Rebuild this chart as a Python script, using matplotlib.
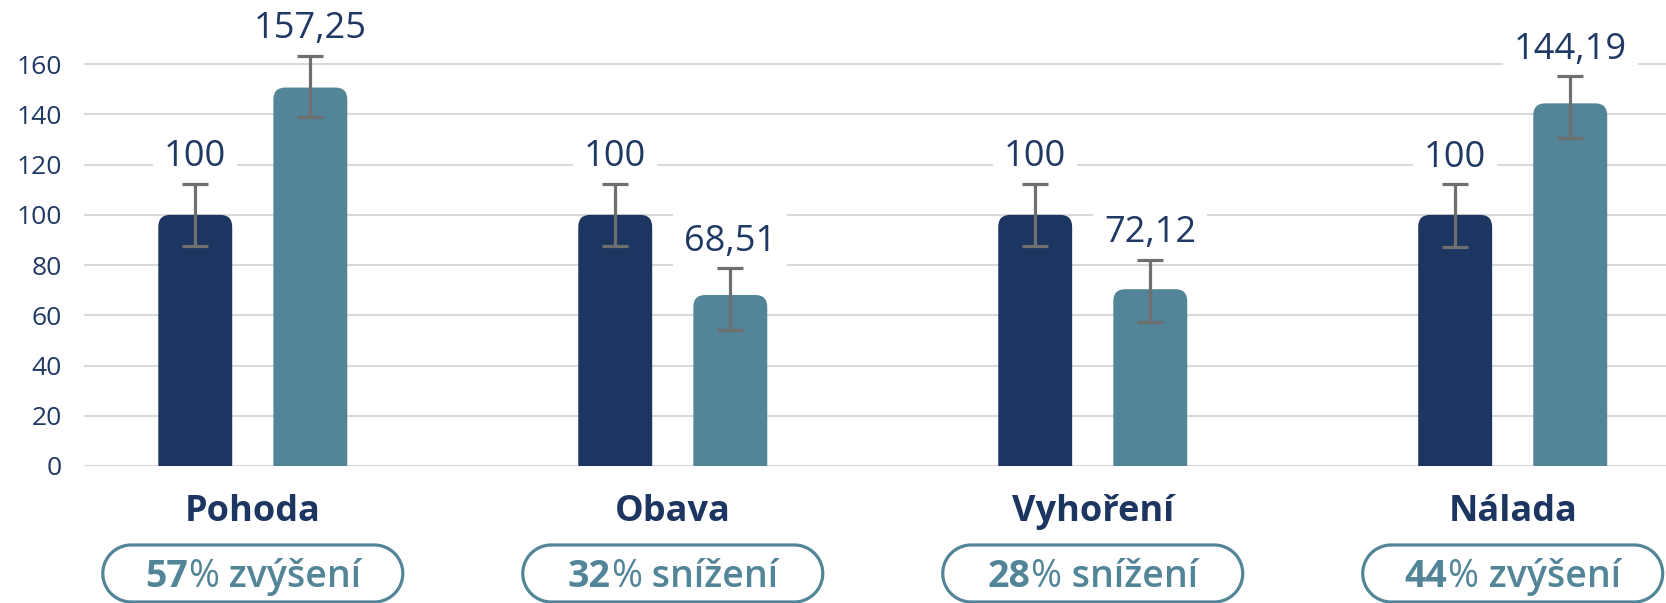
import matplotlib
matplotlib.use("Agg")
import matplotlib.pyplot as plt
from matplotlib.patches import FancyBboxPatch, Polygon
import numpy as np

plt.rcParams['font.family'] = ['Open Sans', 'DejaVu Sans']

# data
categories = ['Pohoda', 'Obava', 'Vyhoření', 'Nálada']
baseline_vals = [100, 100, 100, 100]
after_vals = [150.7, 68.1, 70.4, 144.4]
baseline_err_lo = [87.6, 87.6, 87.6, 87.4]
baseline_err_hi = [112.3, 112.3, 112.3, 112.1]
after_err_lo = [138.9, 54.1, 57.3, 130.8]
after_err_hi = [163.4, 78.7, 82.0, 155.2]
baseline_labels = ['100', '100', '100', '100']
after_labels = ['157,25', '68,51', '72,12', '144,19']
change_pct = ['57', '32', '28', '44']
change_word = ['zvýšení', 'snížení', 'snížení', 'zvýšení']
yticks = [0, 20, 40, 60, 80, 100, 120, 140, 160]

navy = '#1d3661'
teal = '#528597'
text_navy = '#1f3864'
err_grey = '#6f6f6f'
grid_grey = '#d9d9d9'

fig = plt.figure(figsize=(16.66, 6.03), dpi=100)
ax_box = [0.0504, 0.2272, 0.9496, 0.708]
ax = fig.add_axes(ax_box)
xlim = (-0.402, 3.365)
ax.set_xlim(*xlim)
ax.set_ylim(0, 170)

x = np.arange(len(categories))
off = 0.137
width = 0.176

for s in ax.spines.values():
    s.set_visible(False)
ax.set_yticks(yticks)
ax.set_yticklabels([str(v) for v in yticks])
ax.tick_params(axis='y', length=0, pad=16, labelsize=19, labelcolor=text_navy)
ax.set_xticks([])
ax.yaxis.grid(True, color=grid_grey, linewidth=1.5)
ax.set_axisbelow(True)

# size of one pixel in x data units and in y data / axes units
px_x = (xlim[1] - xlim[0]) / (ax_box[2] * 1666)
px_y = 170 / (ax_box[3] * 603)
px_ax = 1 / (ax_box[3] * 603)


def rounded_bars(xs, heights, color):
    bars = ax.bar(xs, heights, width, color=color, zorder=2)
    for b in bars:
        b.set_visible(False)
        p = FancyBboxPatch((b.get_x(), -15), b.get_width(), b.get_height() + 15,
                           boxstyle='round,pad=0,rounding_size=%f' % (12 * px_x),
                           mutation_aspect=px_y / px_x, facecolor=color,
                           edgecolor='none', zorder=2)
        ax.add_patch(p)


rounded_bars(x - off, baseline_vals, navy)
rounded_bars(x + off, after_vals, teal)

for xs, vals, lo, hi in [(x - off, baseline_vals, baseline_err_lo, baseline_err_hi),
                         (x + off, after_vals, after_err_lo, after_err_hi)]:
    vals = np.array(vals)
    yerr = [vals - np.array(lo), np.array(hi) - vals]
    ax.errorbar(xs, vals, yerr=yerr, fmt='none', ecolor=err_grey,
                elinewidth=2.3, capsize=9.7, capthick=2.3, zorder=5)

for xs, labels, hi in [(x - off, baseline_labels, baseline_err_hi),
                       (x + off, after_labels, after_err_hi)]:
    for xi, lab, h in zip(xs, labels, hi):
        ax.text(xi, h + 7, lab, ha='center', va='baseline', fontsize=26,
                color=text_navy, clip_on=False, zorder=4,
                bbox=dict(boxstyle='square,pad=0.3', facecolor='white', edgecolor='none'))

trans = ax.get_xaxis_transform()
for xi, cat in zip(x, categories):
    ax.text(xi, -0.1288, cat, transform=trans, ha='center', va='baseline',
            fontsize=26, fontweight='bold', color=navy, clip_on=False)

# pill shaped boxes under the categories
half_w = 150 * px_x
r = 28.5
ang = np.linspace(-np.pi / 2, np.pi / 2, 40)
y_mid = -0.3185 + r * px_ax
for xi in x:
    right = np.column_stack([xi + half_w - r * px_x + r * px_x * np.cos(ang),
                             y_mid + r * px_ax * np.sin(ang)])
    left = np.column_stack([xi - half_w + r * px_x - r * px_x * np.cos(ang),
                            y_mid - r * px_ax * np.sin(ang)])
    pill = Polygon(np.vstack([right, left]), closed=True, transform=trans,
                   facecolor='white', edgecolor=teal, linewidth=2.3, clip_on=False)
    ax.add_patch(pill)

renderer = fig.canvas.get_renderer()
for xi, pct, word in zip(x, change_pct, change_word):
    parts = [(pct, 'bold'), ('%', 'normal'), (' ' + word, 'semibold')]
    texts = []
    for s, wgt in parts:
        texts.append(ax.text(xi, -0.2826, s, transform=trans, ha='left', va='baseline',
                             fontsize=27, fontweight=wgt, color=teal, clip_on=False))
    widths = [t.get_window_extent(renderer).width for t in texts]
    cx = ax.transData.transform((xi, 0))[0]
    pos = cx - sum(widths) / 2
    for t, w in zip(texts, widths):
        t.set_x(ax.transData.inverted().transform((pos, 0))[0])
        pos += w

plt.savefig('out.png', dpi=100)
plt.close(fig)
